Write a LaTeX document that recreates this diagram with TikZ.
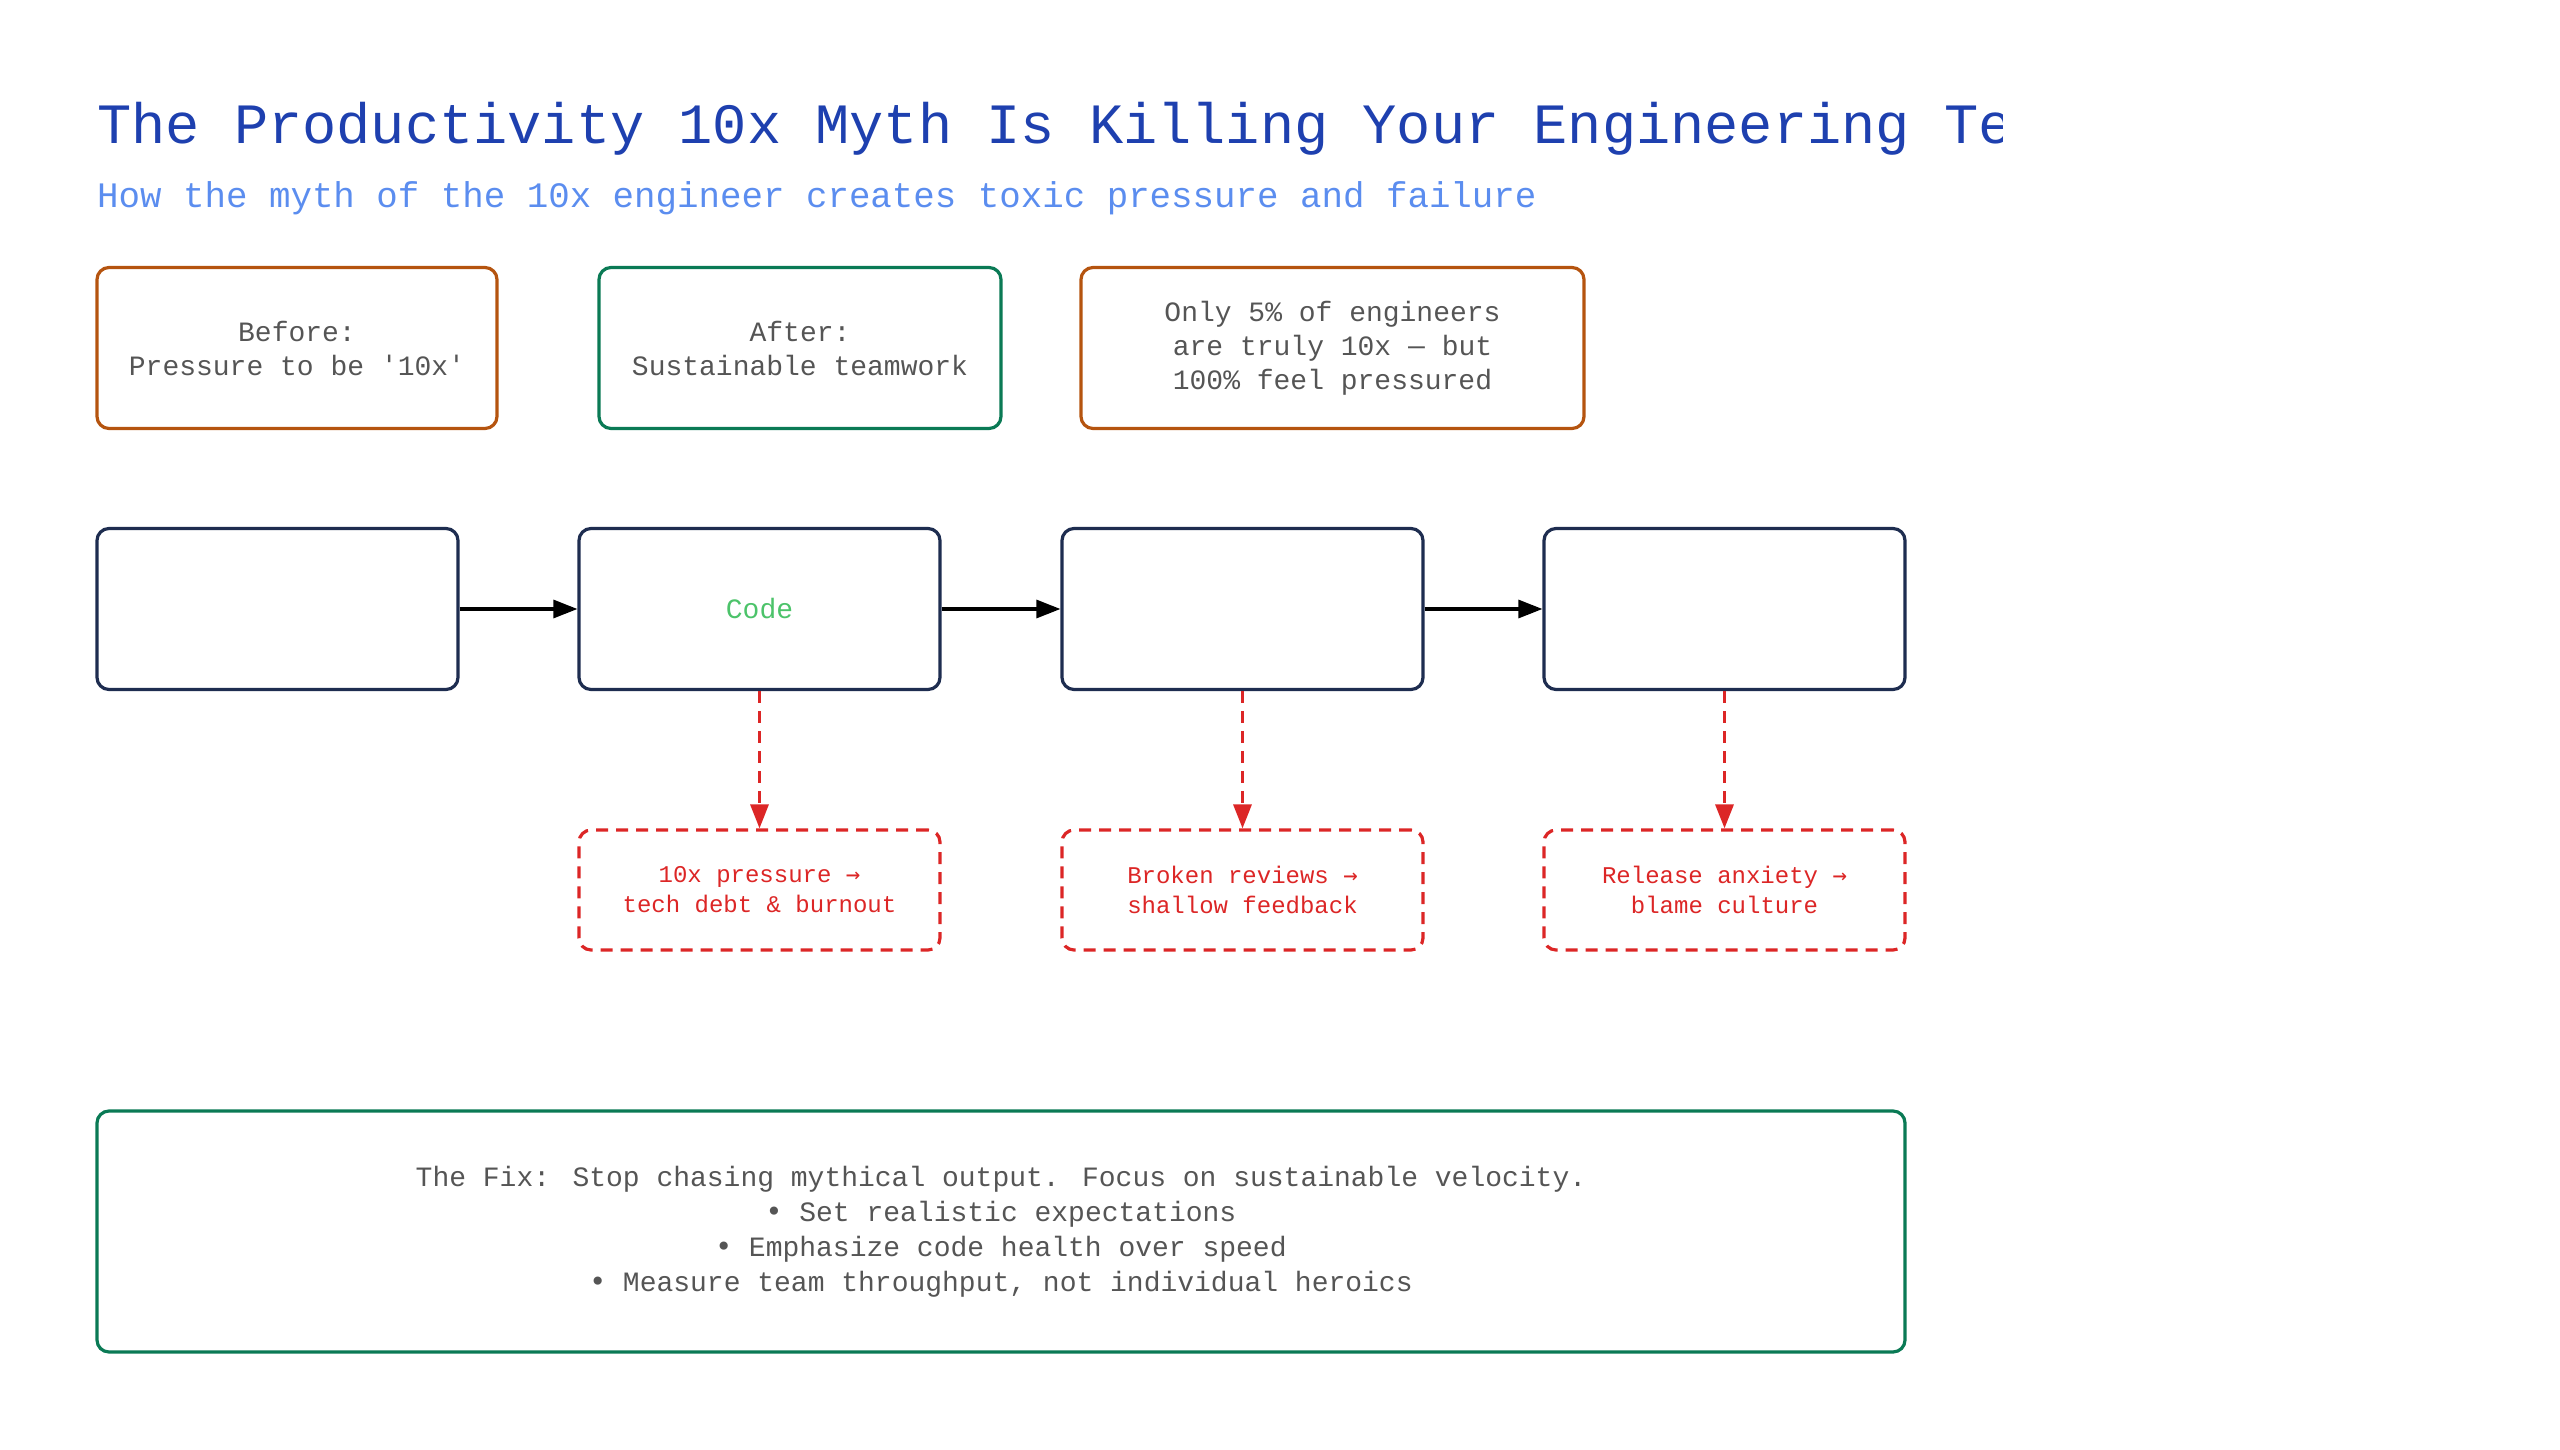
\documentclass[tikz,border=0pt]{standalone}
\usepackage{fontspec}
\setmainfont{Liberation Mono}
\newfontfamily\symf{DejaVu Sans Mono}
\usetikzlibrary{arrows.meta}
\definecolor{orng}{HTML}{B5540F}
\definecolor{grn}{HTML}{0A7A55}
\definecolor{navy}{HTML}{1E2D50}
\definecolor{rd}{HTML}{DC2626}
\definecolor{txt}{HTML}{555555}
\definecolor{ttl}{HTML}{1E40AF}
\definecolor{sub}{HTML}{5B8DEF}
\definecolor{codegrn}{HTML}{4CC36A}
\begin{document}
\begin{tikzpicture}[x=1bp,y=-1bp,
  box/.style={draw,line width=3.2bp,rounded corners=12bp,align=center,inner sep=0pt},
  note/.style={box,text=txt,font=\fontsize{28bp}{34bp}\selectfont},
  stagebox/.style={box,draw=navy,minimum width=361bp,minimum height=161bp},
  risk/.style={box,draw=rd,dash pattern=on 12bp off 8bp,minimum width=361bp,minimum height=120bp,text=rd,font=\fontsize{24bp}{30bp}\selectfont},
  flow/.style={-{Triangle[length=24bp,width=18bp]},line width=3.2bp},
  dflow/.style={-{Triangle[length=24bp,width=18bp]},line width=3.2bp,draw=rd,dash pattern=on 12bp off 8bp}]
\useasboundingbox (0,0) rectangle (2560,1450);
\begin{scope}
\clip (0,0) rectangle (2002,1450);
\node[anchor=base west,inner sep=0pt,text=ttl,font=\fontsize{57bp}{60bp}\selectfont] (title) at (97,144) {The Productivity 10x Myth Is Killing Your Engineering Team};
\end{scope}
\node[anchor=base west,inner sep=0pt,text=sub,font=\fontsize{35.8bp}{40bp}\selectfont] (subtitle) at (97,208) {How the myth of the 10x engineer creates toxic pressure and failure};
\node[note,draw=orng,minimum width=400bp,minimum height=161bp] (before) at (297,348) {Before:\\Pressure to be {\symf\char"27}10x{\symf\char"27}};
\node[note,draw=grn,minimum width=402bp,minimum height=161bp] (after) at (800,348) {After:\\Sustainable teamwork};
\node[note,draw=orng,minimum width=503bp,minimum height=161bp] (stat) at (1332.5,348) {Only 5\% of engineers\\are truly 10x {\symf—} but\\100\% feel pressured};
\node[stagebox] (s1) at (277.5,609) {};
\node[stagebox,text=codegrn,font=\fontsize{28bp}{34bp}\selectfont] (s2) at (759.5,609) {Code};
\node[stagebox] (s3) at (1242.5,609) {};
\node[stagebox] (s4) at (1724.5,609) {};
\draw[flow] (s1.east) -- (s2.west);
\draw[flow] (s2.east) -- (s3.west);
\draw[flow] (s3.east) -- (s4.west);
\node[risk] (r2) at (759.5,890) {10x pressure {\symf→}\\tech debt \& burnout};
\node[risk] (r3) at (1242.5,890) {Broken reviews {\symf→}\\shallow feedback};
\node[risk] (r4) at (1724.5,890) {Release anxiety {\symf→}\\blame culture};
\draw[dflow] (s2.south) -- (r2.north);
\draw[dflow] (s3.south) -- (r3.north);
\draw[dflow] (s4.south) -- (r4.north);
\node[box,draw=grn,minimum width=1808bp,minimum height=241bp,text=txt,font=\fontsize{28bp}{35bp}\selectfont] (fix) at (1001,1231.5) {The Fix: Stop chasing mythical output. Focus on sustainable velocity.\\{\symf•} Set realistic expectations\\{\symf•} Emphasize code health over speed\\{\symf•} Measure team throughput, not individual heroics};
\end{tikzpicture}
\end{document}
